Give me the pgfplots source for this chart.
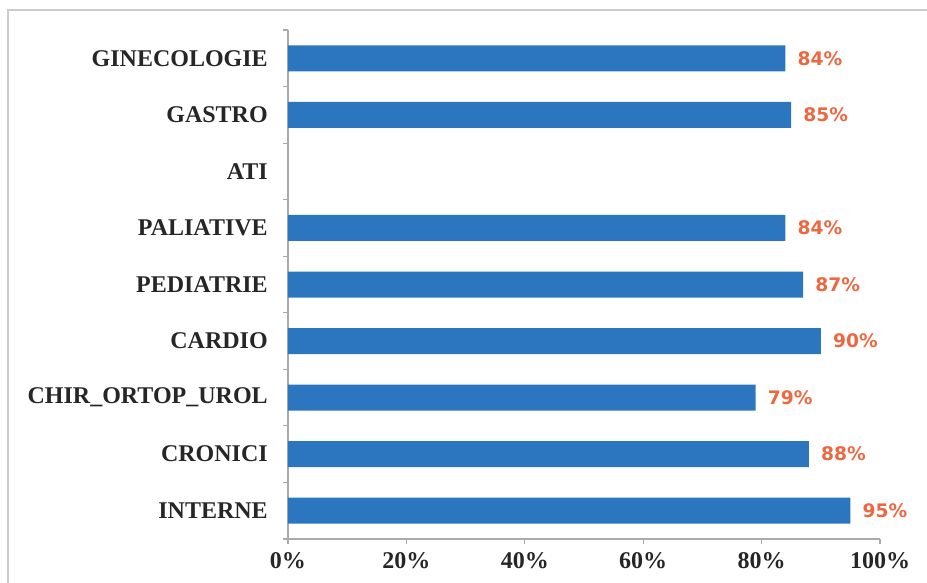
\documentclass[border=0pt]{standalone}
\usepackage{fontspec}
\setmainfont{Liberation Serif}
\newfontfamily\lblfont{DejaVu Sans}
\usepackage{pgfplots}
\pgfplotsset{compat=1.18}
\definecolor{barblue}{RGB}{43,118,190}
\definecolor{lblred}{RGB}{236,104,64}
\definecolor{axgray}{RGB}{170,170,170}

\pgfplotstableread{
pos val
0 95
1 88
2 79
3 90
4 87
5 84
7 85
8 84
}\deptdata

\begin{document}
\begin{tikzpicture}
\begin{axis}[
    scale only axis,
    width=444pt, height=381.75pt,
    xbar, bar width=19.5pt,
    xmin=0, xmax=100,
    ymin=-0.5, ymax=8.5,
    axis x line*=bottom, axis y line*=left,
    axis line style={axgray, line width=0.8pt},
    every tick/.style={axgray, line width=0.8pt},
    tick align=outside,
    /pgf/number format/assume math mode=true,
    xtick={0,20,...,100},
    xticklabels={0\%,20\%,40\%,60\%,80\%,100\%},
    major tick length=4pt,
    ytick={0,...,8},
    yticklabels={INTERNE,CRONICI,CHIR\_ORTOP\_UROL,CARDIO,PEDIATRIE,PALIATIVE,ATI,GASTRO,GINECOLOGIE},
    major y tick style={draw=none},
    minor ytick={-0.5,0.5,...,8.5},
    minor tick length=4pt,
    minor y tick style={draw=axgray, line width=0.8pt},
    tick label style={font=\fontsize{18}{19}\selectfont\bfseries, text=black!85},
    yticklabel style={inner sep=0pt, xshift=-11pt},
    xticklabel style={inner sep=0pt, yshift=-6pt},
    nodes near coords={\pgfmathprintnumber{\pgfplotspointmeta}\%},
    nodes near coords style={font=\lblfont\fontsize{14}{15}\selectfont\bfseries, text=lblred, anchor=west, inner sep=0pt, xshift=9pt},
    point meta=x,
]
\addplot[fill=barblue, draw=none] table[x=val, y=pos] {\deptdata};
\end{axis}
\draw[gray!40, line width=0.8pt] (-210pt,-60pt) -- (-210pt,396.75pt) -- (500pt,396.75pt);
\pgfresetboundingbox
\path[use as bounding box] (-216pt,-32.25pt) rectangle (479.25pt,404.25pt);
\end{tikzpicture}
\end{document}
